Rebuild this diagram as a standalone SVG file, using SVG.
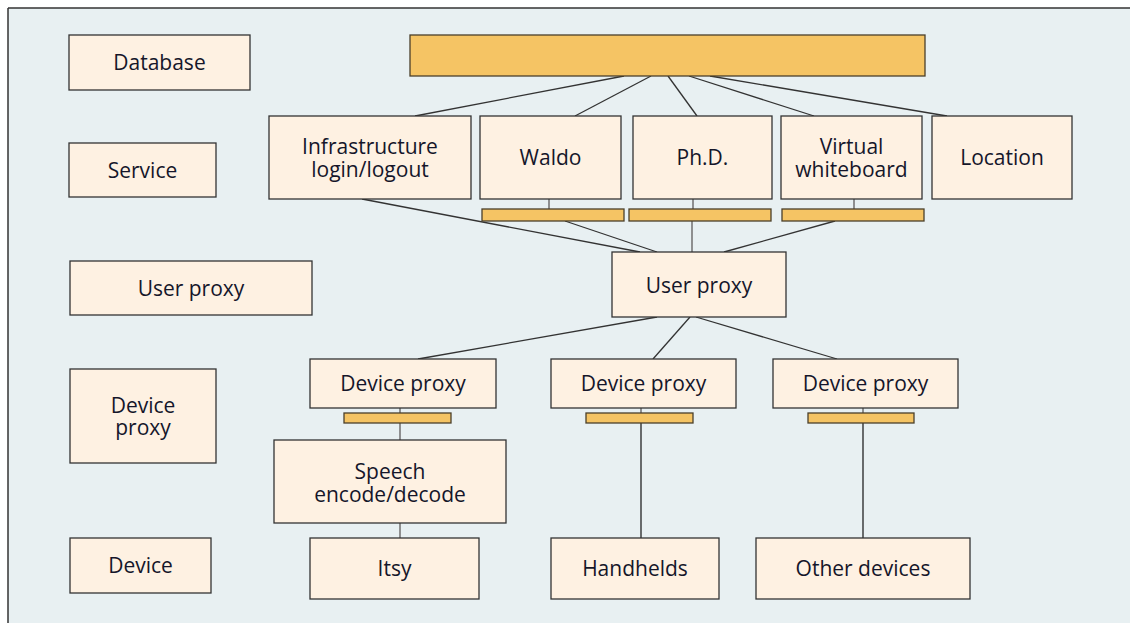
<svg xmlns="http://www.w3.org/2000/svg" width="1130" height="623" viewBox="0 0 1130 623">
  <style>
    .box { fill: #fef1e2; stroke: #333; stroke-width: 1.3; }
    .bar { fill: #f5c464; stroke: #4a3f2a; stroke-width: 1.3; }
    .lbl { font-family: "Open Sans", "Liberation Sans", sans-serif; font-size: 21px; fill: #15162a; text-anchor: middle; }
    .diag { stroke: #333; stroke-width: 1.3; fill: none; }
    .stub { stroke: #777; stroke-width: 1.6; fill: none; }
    .vert { stroke: #222; stroke-width: 1.3; fill: none; }
  </style>

  <!-- panel -->
  <rect x="0" y="0" width="1130" height="623" fill="#ffffff"/>
  <rect x="8" y="8" width="1122" height="615" fill="#e8f0f2"/>
  <line x1="8" y1="8" x2="1130" y2="8" stroke="#333" stroke-width="1.5"/>
  <line x1="8" y1="8" x2="8" y2="623" stroke="#333" stroke-width="1.5"/>

  <!-- connectors -->
  <g id="connectors">
    <!-- database bus to services -->
    <line class="diag" x1="624" y1="76" x2="415" y2="116"/>
    <line class="diag" x1="651" y1="76" x2="575" y2="116"/>
    <line class="diag" x1="668" y1="76" x2="697" y2="116"/>
    <line class="diag" x1="689" y1="76" x2="814" y2="116"/>
    <line class="diag" x1="710" y1="76" x2="947" y2="116"/>
    <!-- service stubs to interface bars -->
    <line class="stub" x1="549" y1="199" x2="549" y2="209"/>
    <line class="stub" x1="693" y1="199" x2="693" y2="209"/>
    <line class="stub" x1="854" y1="199" x2="854" y2="209"/>
    <!-- services to user proxy -->
    <line class="diag" x1="362" y1="199" x2="640" y2="252"/>
    <line class="diag" x1="565" y1="221" x2="657" y2="252"/>
    <line class="stub" x1="692" y1="221" x2="692" y2="252"/>
    <line class="diag" x1="835" y1="221" x2="724" y2="252"/>
    <!-- user proxy to device proxies -->
    <line class="diag" x1="657" y1="317" x2="418" y2="359"/>
    <line class="diag" x1="690" y1="317" x2="653" y2="359"/>
    <line class="diag" x1="696" y1="317" x2="837" y2="359"/>
    <!-- device proxies down to devices -->
    <line class="stub" x1="400" y1="408" x2="400" y2="413"/>
    <line class="stub" x1="400" y1="423" x2="400" y2="440"/>
    <line class="stub" x1="400" y1="523" x2="400" y2="538"/>
    <line class="stub" x1="641" y1="408" x2="641" y2="413"/>
    <line class="vert" x1="641" y1="423" x2="641" y2="538"/>
    <line class="stub" x1="863" y1="408" x2="863" y2="413"/>
    <line class="vert" x1="863" y1="423" x2="863" y2="538"/>
  </g>

  <!-- layer labels -->
  <g id="layer-database"><rect class="box" x="69" y="35" width="181" height="55"/><text class="lbl" x="159.5" y="70">Database</text></g>
  <g id="layer-service"><rect class="box" x="69" y="143" width="147" height="54"/><text class="lbl" x="142.5" y="177.5">Service</text></g>
  <g id="layer-userproxy"><rect class="box" x="70" y="261" width="242" height="54"/><text class="lbl" x="191" y="295.5">User proxy</text></g>
  <g id="layer-deviceproxy"><rect class="box" x="70" y="369" width="146" height="94"/><text class="lbl" x="143" y="412.5">Device<tspan x="143" dy="22.5">proxy</tspan></text></g>
  <g id="layer-device"><rect class="box" x="70" y="538" width="141" height="55"/><text class="lbl" x="140.5" y="573">Device</text></g>

  <!-- database bus -->
  <g id="database-bus"><rect class="bar" x="410" y="35" width="515" height="41"/></g>

  <!-- services -->
  <g id="svc-infra"><rect class="box" x="269" y="116" width="202" height="83"/><text class="lbl" x="370" y="154">Infrastructure<tspan x="370" dy="22.5">login/logout</tspan></text></g>
  <g id="svc-waldo"><rect class="box" x="480" y="116" width="141" height="83"/><text class="lbl" x="550.5" y="165">Waldo</text></g>
  <g id="svc-phd"><rect class="box" x="633" y="116" width="139" height="83"/><text class="lbl" x="702.5" y="165">Ph.D.</text></g>
  <g id="svc-whiteboard"><rect class="box" x="781" y="116" width="141" height="83"/><text class="lbl" x="851.5" y="154">Virtual<tspan x="851.5" dy="22.5">whiteboard</tspan></text></g>
  <g id="svc-location"><rect class="box" x="932" y="116" width="140" height="83"/><text class="lbl" x="1002" y="165">Location</text></g>

  <!-- service interface bars -->
  <g id="bar-waldo"><rect class="bar" x="482" y="209" width="142" height="12"/></g>
  <g id="bar-phd"><rect class="bar" x="629" y="209" width="142" height="12"/></g>
  <g id="bar-whiteboard"><rect class="bar" x="782" y="209" width="142" height="12"/></g>

  <!-- user proxy -->
  <g id="user-proxy"><rect class="box" x="612" y="252" width="174" height="65"/><text class="lbl" x="699" y="292.5">User proxy</text></g>

  <!-- device proxies -->
  <g id="dp-1"><rect class="box" x="310" y="359" width="186" height="49"/><text class="lbl" x="403" y="391">Device proxy</text></g>
  <g id="dp-2"><rect class="box" x="551" y="359" width="185" height="49"/><text class="lbl" x="643.5" y="391">Device proxy</text></g>
  <g id="dp-3"><rect class="box" x="773" y="359" width="185" height="49"/><text class="lbl" x="865.5" y="391">Device proxy</text></g>
  <g id="dp-bar-1"><rect class="bar" x="344" y="413" width="107" height="10"/></g>
  <g id="dp-bar-2"><rect class="bar" x="586" y="413" width="107" height="10"/></g>
  <g id="dp-bar-3"><rect class="bar" x="808" y="413" width="106" height="10"/></g>

  <!-- speech codec -->
  <g id="speech"><rect class="box" x="274" y="440" width="232" height="83"/><text class="lbl" x="390" y="479">Speech<tspan x="390" dy="22.5">encode/decode</tspan></text></g>

  <!-- devices -->
  <g id="dev-itsy"><rect class="box" x="310" y="538" width="169" height="61"/><text class="lbl" x="394.5" y="576">Itsy</text></g>
  <g id="dev-handhelds"><rect class="box" x="551" y="538" width="168" height="61"/><text class="lbl" x="635" y="576">Handhelds</text></g>
  <g id="dev-other"><rect class="box" x="756" y="538" width="214" height="61"/><text class="lbl" x="863" y="576">Other devices</text></g>
</svg>
